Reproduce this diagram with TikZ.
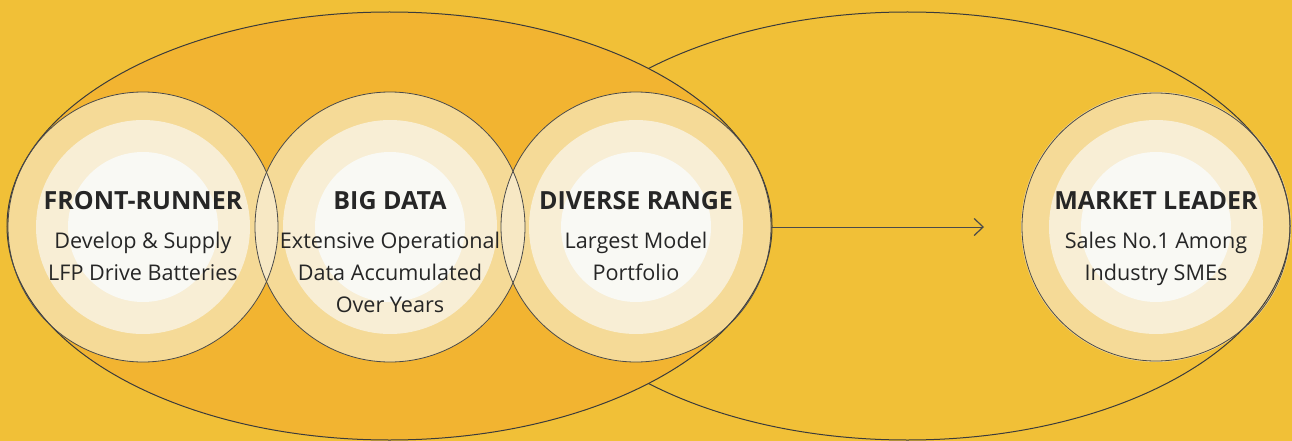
\documentclass[tikz,border=0pt]{standalone}
\usepackage{fontspec}
\setmainfont{Open Sans}
\usetikzlibrary{arrows.meta}
\definecolor{bgc}{HTML}{F1C037}
\definecolor{ellc}{HTML}{F2B431}
\definecolor{ringa}{HTML}{F5DA97}
\definecolor{ringb}{HTML}{F8EED5}
\definecolor{ringc}{HTML}{F9F9F4}
\definecolor{lensc}{HTML}{F7E8C4}
\definecolor{txtc}{HTML}{262626}
\definecolor{strk}{HTML}{4A4A4A}
\tikzset{
  outerring/.style={circle, fill=ringa, minimum size=270pt, inner sep=0pt, outer sep=0pt},
  outline/.style={draw=strk, line width=0.8pt},
  elline/.style={draw=strk!80!black, line width=1pt},
  ttl/.style={font=\fontsize{25}{25}\selectfont\bfseries, text=txtc, anchor=base, inner sep=0pt},
  bdy/.style={font=\fontsize{21.6}{21.6}\selectfont, text=txtc, anchor=base, inner sep=0pt},
}
\newcommand\ringfill[1]{%
  \fill[ringb] (#1) circle (107pt);
  \fill[ringc] (#1) circle (75pt);}
\begin{document}
\begin{tikzpicture}[x=1pt,y=-1pt]
\fill[bgc] (0,0) rectangle (1292,441);
\useasboundingbox (0,0) rectangle (1292,441);
% market leader circle (outside the left ellipse)
\node[outerring] (ml) at (1156,227) {};
\ringfill{ml.center}
% right ellipse outline
\draw[elline] (907.5,226) ellipse [x radius=382.5pt, y radius=214pt];
% left ellipse
\fill[ellc] (389.5,226) ellipse [x radius=382.5pt, y radius=214pt];
% circles in the left ellipse
\node[outerring] (fr) at (143,227) {};
\node[outerring] (bd) at (390,227) {};
\node[outerring] (dr) at (636,227) {};
\ringfill{fr.center}
\ringfill{bd.center}
\ringfill{dr.center}
% lenses
\begin{scope}
  \clip (143,227) circle (135pt);
  \fill[lensc] (390,227) circle (135pt);
\end{scope}
\begin{scope}
  \clip (390,227) circle (135pt);
  \fill[lensc] (636,227) circle (135pt);
\end{scope}
% outlines
\draw[elline] (389.5,226) ellipse [x radius=382.5pt, y radius=214pt];
\draw[outline] (fr.center) circle (135pt);
\draw[outline] (bd.center) circle (135pt);
\draw[outline] (dr.center) circle (135pt);
\draw[outline] (ml.center) circle (134pt);
% arrow
\coordinate (tip) at (984,227);
\draw[outline, -{Straight Barb[length=9pt,width=17pt,line width=1.2pt]}] (dr.east) -- (tip);
% texts
\node[ttl] (frt) at (143,209) {FRONT-RUNNER};
\node[bdy] (fr1) at (143,248) {Develop \& Supply};
\node[bdy] (fr2) at (143,280) {LFP Drive Batteries};
\node[ttl] (bdt) at (390,209) {BIG DATA};
\node[bdy] (bd1) at (390,248) {Extensive Operational};
\node[bdy] (bd2) at (390,280) {Data Accumulated};
\node[bdy] (bd3) at (390,312) {Over Years};
\node[ttl] (drt) at (636,209) {DIVERSE RANGE};
\node[bdy] (dr1) at (636,248) {Largest Model};
\node[bdy] (dr2) at (636,280) {Portfolio};
\node[ttl] (mlt) at (1156,209) {MARKET LEADER};
\node[bdy] (ml1) at (1156,248) {Sales No.1 Among};
\node[bdy] (ml2) at (1156,280) {Industry SMEs};
\end{tikzpicture}
\end{document}
